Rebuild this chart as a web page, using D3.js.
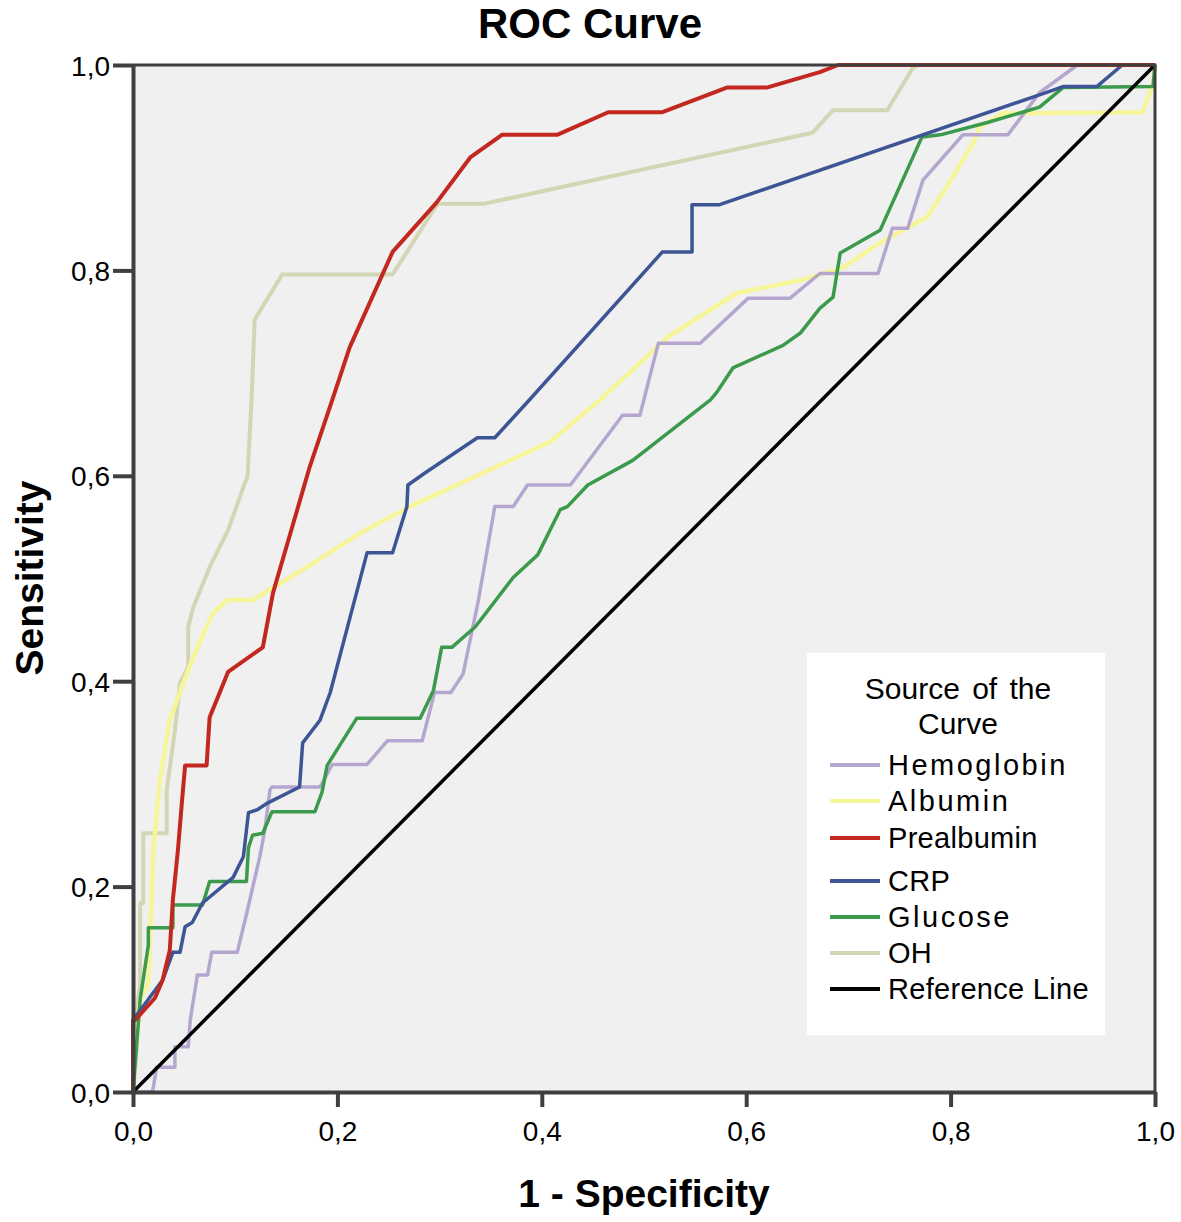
<!DOCTYPE html>
<html>
<head>
<meta charset="utf-8">
<script src="https://cdn.jsdelivr.net/npm/d3@7"></script>
<style>
  html, body { margin: 0; padding: 0; background: #ffffff; }
  svg { display: block; font-family: "Liberation Sans", Arial, sans-serif; }
</style>
</head>
<body>
<svg id="chart" width="1181" height="1222"></svg>
<script>
// ---- data (1 - specificity, sensitivity) ----
const seriesNames = ["Hemoglobin", "Albumin", "Prealbumin", "CRP", "Glucose", "OH", "Reference Line"];
const seriesColors = ["#b5a6cf", "#f6f59a", "#c2281f", "#3d5595", "#3b9a4b", "#d3d5b4", "#000000"];

const hemoglobin = [[0,0],[0.019,0],[0.020,0.005],[0.023,0.024],[0.041,0.024],[0.041,0.044],[0.054,0.044],
  [0.056,0.070],[0.063,0.114],[0.073,0.114],[0.077,0.136],[0.102,0.136],[0.112,0.177],[0.124,0.229],
  [0.129,0.255],[0.134,0.294],[0.136,0.297],[0.183,0.297],[0.195,0.319],[0.229,0.319],[0.249,0.342],
  [0.283,0.342],[0.295,0.389],[0.311,0.389],[0.323,0.407],[0.338,0.479],[0.354,0.570],[0.372,0.570],
  [0.386,0.591],[0.428,0.591],[0.479,0.659],[0.496,0.659],[0.514,0.729],[0.555,0.729],[0.602,0.773],
  [0.643,0.773],[0.672,0.797],[0.729,0.797],[0.743,0.841],[0.758,0.841],[0.773,0.888],[0.812,0.932],
  [0.856,0.932],[0.887,0.973],[0.924,1.0],[1,1]];

const albumin = [[0,0],[0.002,0.031],[0.007,0.090],[0.015,0.106],[0.020,0.236],[0.026,0.301],[0.036,0.362],
  [0.049,0.398],[0.066,0.440],[0.078,0.466],[0.092,0.479],[0.117,0.479],[0.137,0.491],[0.170,0.511],
  [0.222,0.544],[0.271,0.570],[0.408,0.633],[0.457,0.674],[0.523,0.735],[0.591,0.778],[0.656,0.791],
  [0.695,0.803],[0.731,0.827],[0.777,0.852],[0.796,0.881],[0.822,0.924],[0.829,0.940],[0.851,0.953],
  [0.988,0.954],[0.998,0.982],[1,1]];

const prealbumin = [[0,0],[0,0.070],[0.002,0.070],[0.0215,0.0915],[0.029,0.109],[0.036,0.138],[0.039,0.187],
  [0.044,0.236],[0.048,0.284],[0.051,0.318],[0.072,0.318],[0.075,0.365],[0.082,0.382],[0.093,0.409],
  [0.127,0.433],[0.137,0.486],[0.154,0.544],[0.173,0.609],[0.195,0.674],[0.212,0.725],[0.254,0.818],
  [0.297,0.866],[0.330,0.910],[0.361,0.932],[0.415,0.932],[0.465,0.954],[0.518,0.954],[0.581,0.978],
  [0.620,0.978],[0.672,0.993],[0.690,1.0],[1,1]];

const crp = [[0,0],[0,0.070],[0.029,0.109],[0.039,0.136],[0.046,0.136],[0.051,0.161],[0.058,0.165],
  [0.068,0.184],[0.098,0.209],[0.108,0.229],[0.113,0.272],[0.122,0.275],[0.131,0.281],[0.163,0.297],
  [0.166,0.340],[0.183,0.362],[0.193,0.389],[0.229,0.525],[0.254,0.525],[0.268,0.570],[0.269,0.591],
  [0.286,0.603],[0.337,0.637],[0.354,0.637],[0.388,0.674],[0.518,0.818],[0.547,0.818],[0.547,0.864],
  [0.574,0.864],[0.887,0.971],[0.910,0.979],[0.943,0.979],[0.968,1.0],[1,1]];

const glucose = [[0,0],[0.007,0.090],[0.015,0.143],[0.015,0.160],[0.039,0.160],[0.039,0.182],[0.068,0.182],
  [0.075,0.205],[0.111,0.205],[0.113,0.238],[0.117,0.250],[0.127,0.252],[0.136,0.273],[0.178,0.273],
  [0.185,0.292],[0.190,0.318],[0.219,0.364],[0.281,0.364],[0.294,0.391],[0.302,0.433],[0.312,0.433],
  [0.335,0.453],[0.372,0.501],[0.396,0.523],[0.418,0.567],[0.425,0.570],[0.445,0.591],[0.489,0.615],
  [0.565,0.674],[0.571,0.681],[0.587,0.705],[0.636,0.727],[0.653,0.739],[0.672,0.763],[0.685,0.774],
  [0.692,0.817],[0.731,0.839],[0.772,0.930],[0.790,0.932],[0.836,0.944],[0.887,0.959],[0.910,0.978],
  [0.998,0.979],[1,1]];

const oh = [[0,0],[0.003,0.031],[0.005,0.090],[0.007,0.104],[0.007,0.184],[0.010,0.184],[0.010,0.252],
  [0.033,0.252],[0.033,0.294],[0.041,0.352],[0.046,0.398],[0.054,0.414],[0.054,0.453],[0.059,0.472],
  [0.075,0.511],[0.093,0.547],[0.108,0.589],[0.112,0.599],[0.116,0.674],[0.119,0.752],[0.146,0.796],
  [0.254,0.796],[0.298,0.865],[0.344,0.865],[0.665,0.934],[0.685,0.956],[0.738,0.956],[0.763,0.997],
  [0.768,1.0],[1,1]];

const referenceLine = [[0,0],[1,1]];

const tickValues = [0, 0.2, 0.4, 0.6, 0.8, 1.0];
const titleText = "ROC Curve";
const xTitle = "1 - Specificity";
const yTitle = "Sensitivity";
const legendTitle = ["Source of the", "Curve"];

// ---- layout ----
const svg = d3.select("#chart");
const plotLeft = 133, plotRight = 1155, plotTop = 65, plotBottom = 1092;
const x = d3.scaleLinear().domain([0, 1]).range([plotLeft, plotRight]);
const y = d3.scaleLinear().domain([0, 1]).range([plotBottom, plotTop]);
const fmt = d => d3.format(".1f")(d).replace(".", ",");

// plot background
svg.append("rect").attr("x", plotLeft).attr("y", plotTop)
  .attr("width", plotRight - plotLeft).attr("height", plotBottom - plotTop)
  .attr("fill", "#f0f0f0");

// curves
const line = d3.line().x(d => x(d[0])).y(d => y(d[1]));
const seriesData = [hemoglobin, albumin, prealbumin, crp, glucose, oh, referenceLine];
const drawOrder = [5, 1, 0, 4, 3, 2, 6];
const widths = [3.5, 4.5, 4, 3.5, 3.5, 4, 3.5];
drawOrder.forEach(i => {
  svg.append("path").datum(seriesData[i])
    .attr("fill", "none")
    .attr("stroke", seriesColors[i])
    .attr("stroke-width", widths[i])
    .attr("stroke-linejoin", "round")
    .attr("d", line);
});

// frame (top & right)
svg.append("path")
  .attr("d", `M${plotLeft},${plotTop}H${plotRight}V${plotBottom}`)
  .attr("fill", "none").attr("stroke", "#3f3f3f").attr("stroke-width", 3);

// axes
const xAxis = svg.append("g").attr("transform", `translate(0,${plotBottom})`)
  .call(d3.axisBottom(x).tickValues(tickValues).tickFormat(fmt).tickSizeInner(15).tickSizeOuter(0).tickPadding(14));
const yAxis = svg.append("g").attr("transform", `translate(${plotLeft},0)`)
  .call(d3.axisLeft(y).tickValues(tickValues).tickFormat(fmt).tickSizeInner(20).tickSizeOuter(0).tickPadding(3));
[xAxis, yAxis].forEach(g => {
  g.select(".domain").attr("stroke", "#3f3f3f").attr("stroke-width", 4);
  g.selectAll(".tick line").attr("stroke", "#3f3f3f").attr("stroke-width", 4);
  g.selectAll(".tick text").attr("font-size", 28).attr("fill", "#000")
    .attr("font-family", "'Liberation Sans', Arial, sans-serif");
});
yAxis.selectAll(".tick text").attr("dy", "0.36em");

// titles
svg.append("text").attr("x", 590).attr("y", 38).attr("text-anchor", "middle")
  .attr("font-size", 42).attr("font-weight", "bold").text(titleText);
svg.append("text").attr("x", 644).attr("y", 1207).attr("text-anchor", "middle")
  .attr("font-size", 39).attr("font-weight", "bold").text(xTitle);
svg.append("text").attr("transform", "translate(43,578) rotate(-90)").attr("text-anchor", "middle")
  .attr("font-size", 39).attr("font-weight", "bold").text(yTitle);

// legend
const lg = svg.append("g");
lg.append("rect").attr("x", 807).attr("y", 653).attr("width", 298).attr("height", 382).attr("fill", "#ffffff");
legendTitle.forEach((t, i) => {
  lg.append("text").attr("x", 958).attr("y", 699 + i * 35).attr("text-anchor", "middle")
    .attr("font-size", 30).attr("word-spacing", 4).text(t);
});
const itemY = [765, 801, 838, 881, 917, 953, 989];
seriesNames.forEach((name, i) => {
  lg.append("line").attr("x1", 830).attr("x2", 880).attr("y1", itemY[i]).attr("y2", itemY[i])
    .attr("stroke", seriesColors[i]).attr("stroke-width", 4);
  lg.append("text").attr("x", 888).attr("y", itemY[i]).attr("dy", "0.36em")
    .attr("font-size", 29).attr("letter-spacing", i < 2 || i === 4 ? 2.5 : 0.3).text(name);
});
</script>
</body>
</html>
